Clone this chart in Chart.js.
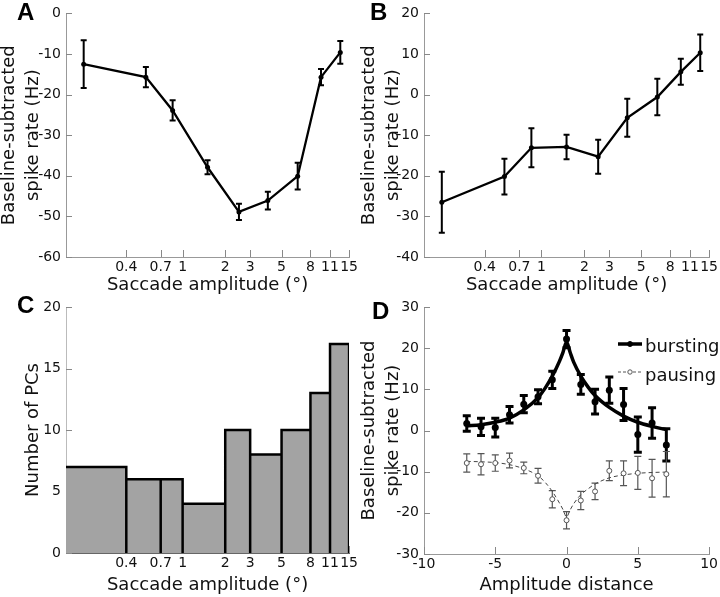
<!DOCTYPE html>
<html>
<head>
<meta charset="utf-8">
<script src="https://cdn.jsdelivr.net/npm/chart.js@4/dist/chart.umd.min.js"></script>
<style>
  body { margin: 0; background: #fff; }
  #fig { position: relative; width: 720px; height: 597px; overflow: hidden; }
  canvas { position: absolute; }
  .lbl { position: absolute; font: bold 24px "Liberation Sans", Arial, sans-serif; line-height: 24px; color: #000; }
</style>
</head>
<body>
<div id="fig">
  <canvas id="chartA" width="360" height="300" style="left:0;top:0"></canvas>
  <canvas id="chartB" width="360" height="300" style="left:360px;top:0"></canvas>
  <canvas id="chartC" width="360" height="307" style="left:0;top:290px"></canvas>
  <canvas id="chartD" width="360" height="307" style="left:360px;top:290px"></canvas>
  <div class="lbl" style="left:17px;top:0">A</div>
  <div class="lbl" style="left:370px;top:0">B</div>
  <div class="lbl" style="left:17px;top:293px">C</div>
  <div class="lbl" style="left:372px;top:299px">D</div>
</div>
<script>
// saccade amplitude bins (deg)
const ampTicks = [0.4, 0.7, 1, 2, 3, 5, 8, 11, 15];
const ampCenters = [0.2, 0.55, 0.85, 1.5, 2.5, 4, 6.5, 9.5, 13];
const binEdges = [0.15, 0.4, 0.7, 1, 2, 3, 5, 8, 11, 15];

// A: pausing PCs
const rateA = [-12.5, -15.7, -23.9, -37.9, -48.9, -46.1, -40.1, -15.7, -9.6];
const errA = [5.9, 2.5, 2.5, 1.7, 2.0, 2.2, 3.3, 2.0, 2.8];

// B: bursting PCs
const rateB = [-26.5, -20.2, -13.1, -12.9, -15.3, -5.7, -0.6, 5.6, 10.3];
const errB = [7.5, 4.4, 4.8, 3.0, 4.2, 4.7, 4.5, 3.2, 4.5];

// C: preferred amplitude histogram
const pcCounts = [7, 6, 6, 4, 10, 8, 10, 13, 17];

// D: tuning around preferred amplitude
const distance = [-7, -6, -5, -4, -3, -2, -1, 0, 1, 2, 3, 4, 5, 6, 7];
const burstRate = [1.7, 0.9, 0.7, 3.8, 6.4, 8.2, 12.3, 22.2, 11.2, 7.0, 9.8, 6.3, -1.0, 1.8, -3.5];
const burstErr = [1.9, 2.1, 2.3, 2.0, 2.1, 1.7, 2.1, 2.1, 2.4, 3.0, 3.2, 3.9, 4.3, 3.7, 3.9];
const pauseRate = [-7.9, -8.2, -7.9, -7.3, -9.1, -11.0, -16.7, -21.8, -17.0, -14.8, -9.8, -10.4, -10.3, -11.6, -10.6];
const pauseErr = [2.2, 2.6, 2.0, 1.8, 1.4, 1.8, 2.1, 2.1, 2.2, 2.0, 2.4, 3.0, 4.0, 4.6, 5.5];
const fitX = [-7, -6, -5, -4, -3, -2, -1.5, -1, -0.5, -0.25, 0, 0.25, 0.5, 1, 1.5, 2, 3, 4, 5, 6, 7];
const burstFit = [1.1, 1.4, 2.0, 3.0, 5.0, 8.0, 10.3, 13.2, 16.8, 19.0, 21.5, 19.0, 16.6, 13.2, 10.6, 8.5, 5.6, 3.5, 2.0, 1.0, 0.2];
const pauseFit = [-7.5, -7.6, -7.8, -8.3, -9.3, -11.0, -12.6, -14.8, -17.6, -19.2, -21.0, -19.3, -17.8, -15.6, -14.2, -13.0, -11.5, -10.8, -10.4, -10.2, -10.1];

Chart.defaults.font.family = '"DejaVu Sans", sans-serif';
Chart.defaults.font.size = 14;
Chart.defaults.color = '#111';
Chart.defaults.animation = false;
Chart.defaults.responsive = false;
Chart.defaults.plugins.legend.display = false;
Chart.defaults.plugins.tooltip.enabled = false;

// MATLAB-like ticks pointing into the plot
const inTicks = {
  id: 'inTicks',
  beforeDatasetsDraw(chart) {
    const { ctx, chartArea: a } = chart;
    const x = chart.scales.x, y = chart.scales.y;
    ctx.save();
    ctx.strokeStyle = '#888';
    ctx.lineWidth = 1;
    ctx.beginPath();
    x.ticks.forEach(t => {
      const px = Math.round(x.getPixelForValue(t.value)) + 0.5;
      ctx.moveTo(px, a.bottom);
      ctx.lineTo(px, a.bottom - 7);
    });
    y.ticks.forEach(t => {
      const py = Math.round(y.getPixelForValue(t.value)) + 0.5;
      ctx.moveTo(a.left, py);
      ctx.lineTo(a.left + 6, py);
    });
    ctx.stroke();
    ctx.restore();
  }
};

const errorBars = {
  id: 'errorBars',
  beforeDatasetsDraw(chart) {
    const ctx = chart.ctx;
    const xs = chart.scales.x, ys = chart.scales.y;
    chart.data.datasets.forEach(ds => {
      if (!ds.errors) return;
      ctx.save();
      ctx.strokeStyle = ds.errColor;
      ctx.lineWidth = ds.errWidth;
      ctx.beginPath();
      ds.data.forEach((p, j) => {
        const px = xs.getPixelForValue(p.x);
        const top = ys.getPixelForValue(p.y + ds.errors[j]);
        const bot = ys.getPixelForValue(p.y - ds.errors[j]);
        const h = ds.capWidth / 2;
        ctx.moveTo(px, top); ctx.lineTo(px, bot);
        ctx.moveTo(px - h, top); ctx.lineTo(px + h, top);
        ctx.moveTo(px - h, bot); ctx.lineTo(px + h, bot);
      });
      ctx.stroke();
      ctx.restore();
    });
  }
};

const legendD = {
  id: 'legendD',
  afterDraw(chart, args, opts) {
    if (!opts.items) return;
    const ctx = chart.ctx;
    ctx.save();
    opts.items.forEach(it => {
      ctx.strokeStyle = it.color;
      ctx.lineWidth = it.width;
      ctx.setLineDash(it.dash);
      ctx.beginPath();
      ctx.moveTo(opts.x0, it.y);
      ctx.lineTo(opts.x1, it.y);
      ctx.stroke();
      ctx.setLineDash([]);
      ctx.beginPath();
      ctx.arc((opts.x0 + opts.x1) / 2, it.y, it.r, 0, Math.PI * 2);
      ctx.fillStyle = it.fill;
      ctx.fill();
      ctx.lineWidth = 1;
      ctx.stroke();
      ctx.fillStyle = '#111';
      ctx.font = '18px "DejaVu Sans", sans-serif';
      ctx.textBaseline = 'alphabetic';
      ctx.fillText(it.label, opts.tx, it.base);
    });
    ctx.restore();
  }
};

Chart.register(inTicks, errorBars, legendD);

function yAxis(min, max, step, title, width, titlePad, border) {
  return {
    min: min, max: max,
    ticks: { stepSize: step, padding: 5 },
    grid: { display: false, drawTicks: false },
    border: { color: border || '#999', width: 1 },
    title: { display: true, text: title, font: { size: 18, lineHeight: 1.3 }, padding: { top: titlePad } },
    afterFit: s => { s.width = width; }
  };
}

function ampAxis(height, titlePad, border) {
  return {
    type: 'logarithmic', min: 0.15, max: 15,
    afterBuildTicks: s => { s.ticks = ampTicks.map(v => ({ value: v })); },
    ticks: { autoSkip: false, maxRotation: 0, padding: 2, callback: v => String(v) },
    grid: { display: false, drawTicks: false },
    border: { color: border || '#999', width: 1 },
    title: { display: true, text: 'Saccade amplitude (°)', font: { size: 18 }, padding: { bottom: titlePad } },
    afterFit: s => { s.height = height; }
  };
}

function tuningSet(rates, errs) {
  return {
    data: ampCenters.map((x, i) => ({ x: x, y: rates[i] })),
    errors: errs, errColor: '#000', errWidth: 2, capWidth: 6,
    showLine: true, borderColor: '#000', borderWidth: 2.3,
    pointRadius: 2.5, pointBackgroundColor: '#000', pointBorderWidth: 0
  };
}

const yTitle2 = ['Baseline-subtracted', 'spike rate (Hz)'];

new Chart(document.getElementById('chartA'), {
  type: 'scatter',
  data: { datasets: [tuningSet(rateA, errA)] },
  options: {
    layout: { padding: { top: 12, right: 8, left: 0, bottom: 0 } },
    scales: { x: ampAxis(43, 4), y: yAxis(-60, 0, 10, yTitle2, 66, -2) }
  }
});

new Chart(document.getElementById('chartB'), {
  type: 'scatter',
  data: { datasets: [tuningSet(rateB, errB)] },
  options: {
    layout: { padding: { top: 12, right: 8, left: 0, bottom: 0 } },
    scales: { x: ampAxis(43, 4), y: yAxis(-40, 20, 10, yTitle2, 64, -2) }
  }
});

// histogram outline as a stepped polygon on the log axis
const histPts = [];
pcCounts.forEach((c, i) => {
  histPts.push({ x: binEdges[i], y: c });
  histPts.push({ x: binEdges[i + 1], y: c });
  histPts.push({ x: binEdges[i + 1], y: 0 });
});

new Chart(document.getElementById('chartC'), {
  type: 'scatter',
  data: {
    datasets: [{
      data: histPts, showLine: true, fill: 'origin',
      backgroundColor: '#a3a3a3', borderColor: '#000', borderWidth: 2.5,
      borderJoinStyle: 'miter', pointRadius: 0
    }]
  },
  options: {
    layout: { padding: { top: 17, right: 7, left: 0, bottom: 0 } },
    scales: { x: ampAxis(44, 1, '#666'), y: yAxis(0, 20, 5, 'Number of PCs', 66, 22, '#bbb') }
  }
});

new Chart(document.getElementById('chartD'), {
  type: 'scatter',
  data: {
    datasets: [
      {
        label: 'bursting fit',
        data: fitX.map((x, i) => ({ x: x, y: burstFit[i] })),
        showLine: true, borderColor: '#000', borderWidth: 3.5,
        cubicInterpolationMode: 'monotone', pointRadius: 0
      },
      {
        label: 'bursting',
        data: distance.map((x, i) => ({ x: x, y: burstRate[i] })),
        errors: burstErr, errColor: '#000', errWidth: 3, capWidth: 8,
        pointRadius: 3.5, pointBackgroundColor: '#000', pointBorderWidth: 0
      },
      {
        label: 'pausing',
        data: distance.map((x, i) => ({ x: x, y: pauseRate[i] })),
        errors: pauseErr, errColor: '#555', errWidth: 1.2, capWidth: 7,
        pointRadius: 2.5, pointBackgroundColor: '#fff', pointBorderColor: '#555', pointBorderWidth: 1
      },
      {
        label: 'pausing fit',
        data: fitX.map((x, i) => ({ x: x, y: pauseFit[i] })),
        showLine: true, borderColor: '#444', borderWidth: 1, borderDash: [4, 3],
        cubicInterpolationMode: 'monotone', pointRadius: 0
      }
    ]
  },
  options: {
    layout: { padding: { top: 17, right: 8, left: 0, bottom: 0 } },
    scales: {
      x: {
        type: 'linear', min: -10, max: 10,
        ticks: { stepSize: 5, padding: 2, maxRotation: 0 },
        grid: { display: false, drawTicks: false },
        border: { color: '#999', width: 1 },
        title: { display: true, text: 'Amplitude distance', font: { size: 18 }, padding: { bottom: 1 } },
        afterFit: s => { s.height = 43; }
      },
      y: yAxis(-30, 30, 10, yTitle2, 64, -2)
    },
    plugins: {
      legendD: {
        x0: 258, x1: 282, tx: 285,
        items: [
          { label: 'bursting', color: '#000', width: 3.5, dash: [], r: 2.5, fill: '#000', y: 54, base: 62 },
          { label: 'pausing', color: '#555', width: 1, dash: [3, 2], r: 2.2, fill: '#fff', y: 82, base: 91 }
        ]
      }
    }
  }
});
</script>
</body>
</html>
